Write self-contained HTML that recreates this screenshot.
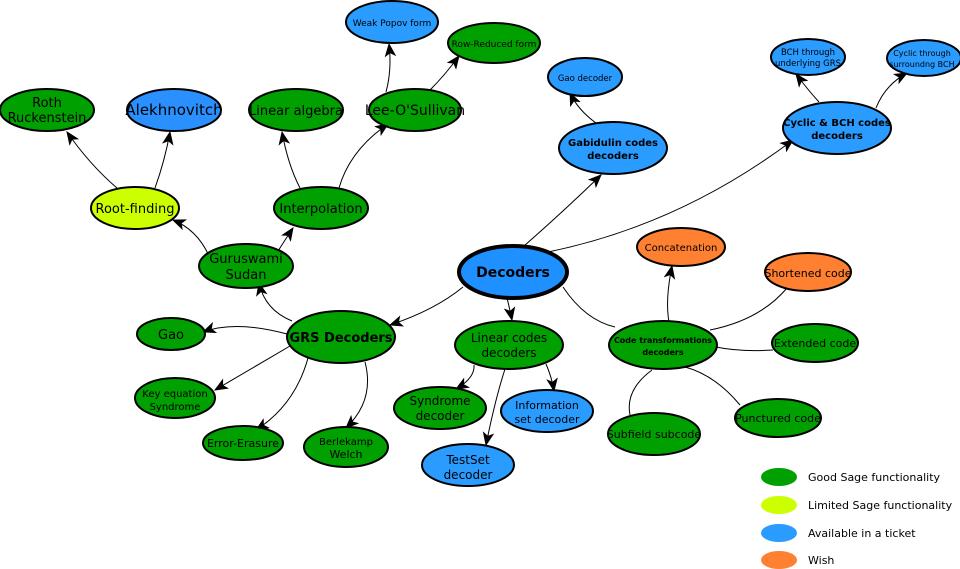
<!DOCTYPE html>
<html><head><meta charset="utf-8"><style>body{margin:0;background:#fff}svg{display:block}text{font-family:"DejaVu Sans","Liberation Sans",sans-serif;fill:#000;text-anchor:middle}</style></head><body>
<svg width="960" height="569" viewBox="0 0 960 569" xmlns="http://www.w3.org/2000/svg">
<defs><marker id="a" viewBox="0 0 12 10" refX="11" refY="5" markerWidth="14" markerHeight="12" markerUnits="userSpaceOnUse" orient="auto"><path d="M0,0 L12,5 L0,10 L3,5 z" fill="#000"/></marker></defs>
<g fill="none" stroke="#000" stroke-width="1" marker-end="url(#a)">
<path d="M117,188 Q90,165 67,132"/>
<path d="M155,188 Q165,160 170,132"/>
<path d="M300,188 Q288,165 282,132"/>
<path d="M339,188 Q350,150 388,124"/>
<path d="M386,92 Q392,70 389,44"/>
<path d="M430,90 Q445,75 459,56"/>
<path d="M210,258 Q198,230 173,220"/>
<path d="M278,251 Q285,240 293,228"/>
<path d="M292,321 Q265,310 259,283"/>
<path d="M287,334 Q235,320 203,332"/>
<path d="M290,346 L215,390"/>
<path d="M308,358 Q295,405 256,430"/>
<path d="M365,362 Q375,400 346,428"/>
<path d="M463,287 Q435,310 390,325"/>
<path d="M507,298 Q510,310 512,320"/>
<path d="M474,365 Q475,378 456,389"/>
<path d="M505,369 Q495,400 486,445"/>
<path d="M546,364 Q552,378 554,391"/>
<path d="M524,246 Q565,210 601,175"/>
<path d="M548,252 Q680,225 793,140"/>
<path d="M596,123 Q578,110 570,93"/>
<path d="M819,102 Q808,90 796,74"/>
<path d="M876,108 Q885,85 907,73"/>
<path d="M669,322 Q665,300 672,266"/>
</g>
<g fill="none" stroke="#000" stroke-width="1">
<path d="M563,287 Q585,320 615,327"/>
<path d="M710,330 Q760,320 787,288"/>
<path d="M716,347 Q740,352 773,350"/>
<path d="M685,367 Q715,375 740,405"/>
<path d="M652,370 Q625,390 630,415"/>
</g>
<g stroke="#000" stroke-width="2">
<ellipse cx="47" cy="110" rx="47" ry="21" fill="#00a000"/>
<ellipse cx="174" cy="110" rx="47" ry="21" fill="#2a90ff"/>
<ellipse cx="296" cy="110" rx="47" ry="21" fill="#00a000"/>
<ellipse cx="415" cy="110" rx="46" ry="21" fill="#00a000"/>
<ellipse cx="392" cy="22" rx="46" ry="21" fill="#2a9cff"/>
<ellipse cx="494" cy="43" rx="46" ry="20" fill="#00a000"/>
<ellipse cx="135" cy="208" rx="44" ry="21" fill="#ccff00"/>
<ellipse cx="321" cy="208" rx="47" ry="21" fill="#00a000"/>
<ellipse cx="246" cy="266" rx="47" ry="22" fill="#00a000"/>
<ellipse cx="341" cy="337" rx="54" ry="26" fill="#00a000"/>
<ellipse cx="171" cy="334" rx="34" ry="16" fill="#00a000"/>
<ellipse cx="175" cy="398" rx="40" ry="20" fill="#00a000"/>
<ellipse cx="243" cy="443" rx="40" ry="17" fill="#00a000"/>
<ellipse cx="346" cy="447" rx="42" ry="20" fill="#00a000"/>
<ellipse cx="509" cy="345" rx="54" ry="24" fill="#00a000"/>
<ellipse cx="440" cy="408" rx="46" ry="21" fill="#00a000"/>
<ellipse cx="547" cy="411" rx="46" ry="21" fill="#2a9cff"/>
<ellipse cx="468" cy="465" rx="46" ry="21" fill="#2a9cff"/>
<ellipse cx="613" cy="148" rx="54" ry="26" fill="#2a9cff"/>
<ellipse cx="585" cy="77" rx="37" ry="19" fill="#2a9cff"/>
<ellipse cx="837" cy="128" rx="54" ry="26" fill="#2a9cff"/>
<ellipse cx="808" cy="57" rx="37" ry="18" fill="#2a9cff"/>
<ellipse cx="924" cy="58" rx="37" ry="18" fill="#2a9cff"/>
<ellipse cx="681" cy="247" rx="44" ry="19" fill="#ff8030"/>
<ellipse cx="808" cy="272" rx="43" ry="19" fill="#ff8030"/>
<ellipse cx="663" cy="345" rx="54" ry="24" fill="#00a000"/>
<ellipse cx="815" cy="343" rx="43" ry="19" fill="#00a000"/>
<ellipse cx="778" cy="418" rx="43" ry="19" fill="#00a000"/>
<ellipse cx="654" cy="434" rx="46" ry="21" fill="#00a000"/>
<ellipse cx="513" cy="272" rx="54" ry="26" fill="#1e90ff" stroke-width="4"/>
</g>
<g font-size="13">
<text x="47" y="107">Roth</text><text x="47" y="122">Ruckenstein</text>
<text x="174" y="115" font-size="15">Alekhnovitch</text>
<text x="296" y="115">Linear algebra</text>
<text x="415" y="115" font-size="14">Lee-O'Sullivan</text>
<text x="392" y="26" font-size="9">Weak Popov form</text>
<text x="494" y="47" font-size="9">Row-Reduced form</text>
<text x="135" y="213">Root-finding</text>
<text x="321" y="213">Interpolation</text>
<text x="246" y="263">Guruswami</text><text x="246" y="279">Sudan</text>
<text x="341" y="342" font-weight="bold">GRS Decoders</text>
<text x="171" y="339">Gao</text>
<text x="175" y="397" font-size="10">Key equation</text><text x="175" y="410" font-size="10">Syndrome</text>
<text x="243" y="447" font-size="11">Error-Erasure</text>
<text x="346" y="445" font-size="10">Berlekamp</text><text x="346" y="458" font-size="11">Welch</text>
<text x="509" y="342" font-size="12">Linear codes</text><text x="509" y="357" font-size="12">decoders</text>
<text x="440" y="405" font-size="12">Syndrome</text><text x="440" y="420" font-size="12">decoder</text>
<text x="547" y="409" font-size="11">Information</text><text x="547" y="423" font-size="11">set decoder</text>
<text x="468" y="464" font-size="12">TestSet</text><text x="468" y="479" font-size="12">decoder</text>
<text x="613" y="146" font-size="10" font-weight="bold">Gabidulin codes</text><text x="613" y="159" font-size="10" font-weight="bold">decoders</text>
<text x="585" y="81" font-size="8.5">Gao decoder</text>
<text x="837" y="126" font-size="10" font-weight="bold">Cyclic &amp; BCH codes</text><text x="837" y="139" font-size="10" font-weight="bold">decoders</text>
<text x="808" y="55" font-size="8.5">BCH through</text><text x="808" y="66" font-size="8.5">underlying GRS</text>
<text x="922" y="56" font-size="8">Cyclic through</text><text x="922" y="67" font-size="8">surroundng BCH</text>
<text x="681" y="251" font-size="10">Concatenation</text>
<text x="808" y="277" font-size="11">Shortened code</text>
<text x="663" y="343" font-size="8" font-weight="bold">Code transformations</text><text x="663" y="355" font-size="8" font-weight="bold">decoders</text>
<text x="815" y="347" font-size="11">Extended code</text>
<text x="778" y="422" font-size="11">Punctured code</text>
<text x="654" y="438" font-size="11">Subfield subcode</text>
<text x="513" y="277" font-size="14" font-weight="bold">Decoders</text>
</g>
<g>
<ellipse cx="779" cy="477" rx="18" ry="9" fill="#00a000"/>
<ellipse cx="779" cy="505" rx="18" ry="9" fill="#ccff00"/>
<ellipse cx="779" cy="533" rx="18" ry="9" fill="#2a9cff"/>
<ellipse cx="779" cy="560" rx="18" ry="9" fill="#ff8030"/>
<g font-size="11">
<text x="808" y="481" style="text-anchor:start">Good Sage functionality</text>
<text x="808" y="509" style="text-anchor:start">Limited Sage functionality</text>
<text x="808" y="537" style="text-anchor:start">Available in a ticket</text>
<text x="808" y="564" style="text-anchor:start">Wish</text>
</g></g>
</svg>
</body></html>
